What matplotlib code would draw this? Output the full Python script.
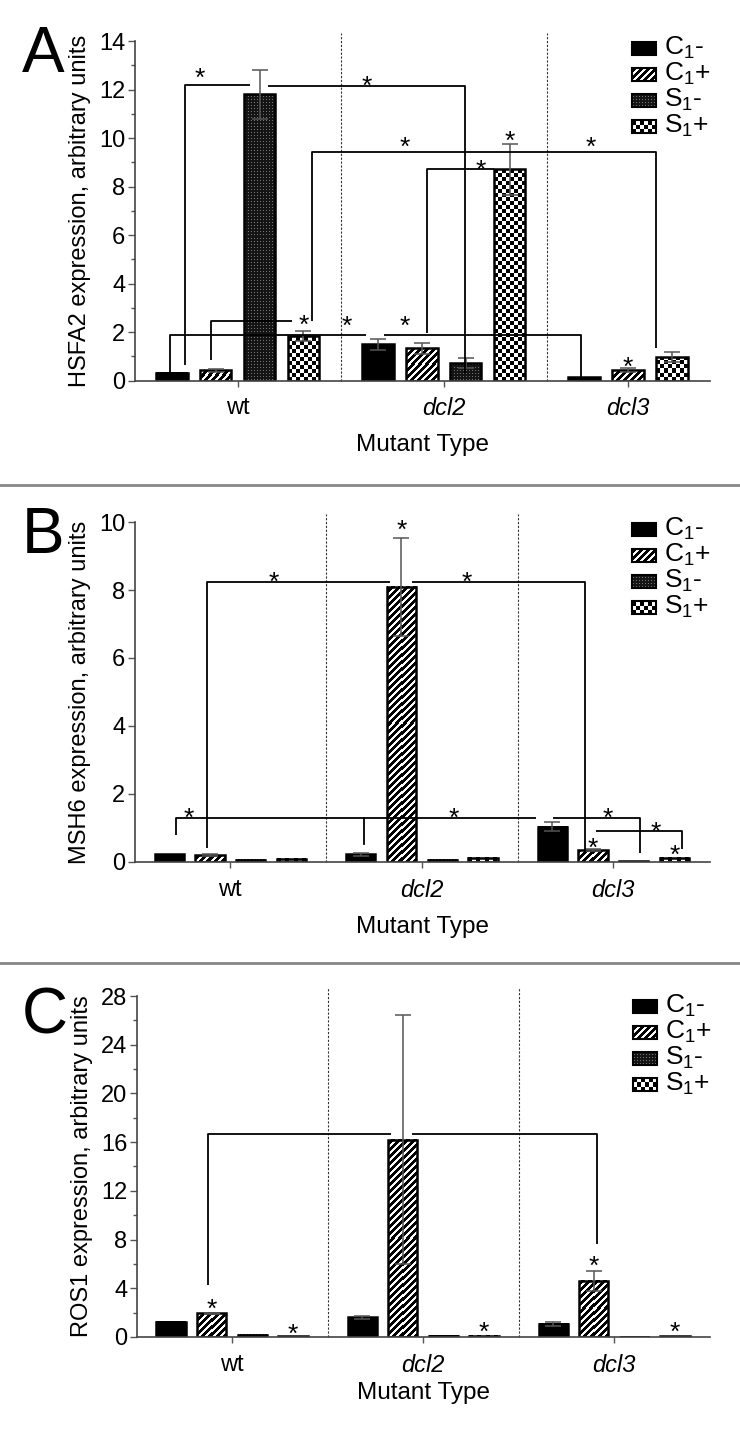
import numpy as np
import matplotlib.pyplot as plt
from matplotlib.patches import Rectangle
from matplotlib.lines import Line2D
from matplotlib.ticker import MultipleLocator

plt.rcParams['font.family'] = ['Liberation Sans', 'DejaVu Sans']
plt.rcParams['mathtext.fontset'] = 'custom'
plt.rcParams['mathtext.rm'] = 'Liberation Sans'
plt.rcParams['mathtext.it'] = 'Liberation Sans:italic'

# data (nan = bar not shown)
series = ['C$_1$-', 'C$_1$+', 'S$_1$-', 'S$_1$+']
groups = ['wt', 'dcl2', 'dcl3']

hsfa2_mean = [[0.33, 0.42, 11.8, 1.84], [1.5, 1.33, 0.74, 8.72], [0.16, 0.44, np.nan, 0.96]]
hsfa2_err = [[0.0, 0.07, 1.0, 0.2], [0.22, 0.23, 0.21, 1.05], [0.0, 0.07, np.nan, 0.21]]

msh6_mean = [[0.235, 0.2, 0.06, 0.1], [0.22, 8.1, 0.06, 0.12], [1.04, 0.35, 0.02, 0.12]]
msh6_err = [[0.0, 0.02, 0.0, 0.0], [0.04, 1.44, 0.0, 0.0], [0.13, 0.03, 0.0, 0.0]]

ros1_mean = [[1.26, 1.95, 0.2, 0.08], [1.62, 16.2, 0.1, 0.1], [1.07, 4.62, 0.03, 0.05]]
ros1_err = [[0.0, 0.05, 0.0, 0.0], [0.13, 10.2, 0.0, 0.0], [0.19, 0.82, 0.0, 0.0]]

# significance brackets: (left end, right end, level, left drop to, right drop to)
# ends given as (group, series index, offset from bar centre)
hsfa2_brackets = [
    (('wt', 0, 0.30), ('wt', 2, -0.21), 12.2, 0.65, None),
    (('wt', 2, 0.20), ('dcl2', 2, -0.02), 12.15, None, 0.32),
    (('wt', 3, 0.20), ('dcl3', 3, -0.35), 9.43, 2.45, 1.35),
    (('dcl2', 1, 0.12), ('dcl2', 3, -0.36), 8.72, 1.96, None),
    (('wt', 0, -0.05), ('dcl2', 0, -0.27), 1.88, 0.32, None),
    (('dcl2', 0, 0.14), ('dcl3', 0, -0.08), 1.88, None, 0.15),
    (('wt', 1, -0.11), ('wt', 3, -0.25), 2.45, 0.85, None),
]
hsfa2_stars = [(('wt', 0, 0.64), 12.8), (('dcl2', 0, -0.25), 12.45), (('dcl2', 1, -0.38), 9.95),
               (('dcl3', 0, 0.15), 9.95), (('dcl2', 3, -0.65), 9.0), (('dcl2', 0, -0.72), 2.55),
               (('dcl2', 1, -0.38), 2.55), (('wt', 3, 0.0), 2.6), (('dcl2', 3, 0.0), 10.2),
               (('dcl3', 1, 0.0), 0.85)]

msh6_brackets = [
    (('wt', 1, -0.07), ('dcl2', 1, -0.27), 8.24, 0.41, None),
    (('dcl2', 1, 0.27), ('dcl3', 1, -0.2), 8.24, None, 0.29),
    (('wt', 0, 0.17), ('dcl3', 0, -0.41), 1.3, 0.79, None),
    (('dcl3', 0, 0.03), ('dcl3', 2, 0.15), 1.3, None, 0.26),
    (('dcl3', 1, 0.07), ('dcl3', 3, 0.18), 0.91, None, 0.38),
]
msh6_drops = [(('dcl2', 0, 0.07), 1.3, 0.53)]
msh6_stars = [(('wt', 2, 0.56), 8.45), (('dcl2', 3, -0.4), 8.45), (('dcl2', 1, 0.0), 9.97),
              (('wt', 0, 0.49), 1.5), (('dcl2', 2, 0.28), 1.5), (('dcl3', 1, 0.36), 1.5),
              (('dcl3', 3, -0.46), 1.09), (('dcl3', 1, 0.0), 0.62), (('dcl3', 3, 0.0), 0.41)]

ros1_brackets = [
    (('wt', 1, -0.09), ('dcl2', 1, -0.3), 16.67, 4.27, None),
    (('dcl2', 1, 0.22), ('dcl3', 1, 0.07), 16.67, None, 7.64),
]
ros1_stars = [(('wt', 1, 0.0), 2.87), (('wt', 3, 0.0), 0.82), (('dcl2', 3, 0.0), 0.99),
              (('dcl3', 1, 0.0), 6.4), (('dcl3', 3, 0.0), 0.99)]

fills = ['solid', 'stripes', 'dots', 'checker']


def pattern(kind, w_px, h_px):
    w_px, h_px = max(int(round(w_px)), 1), max(int(round(h_px)), 1)
    yy, xx = np.mgrid[0:h_px, 0:w_px]
    if kind == 'solid':
        v = np.zeros((h_px, w_px))
    elif kind == 'stripes':
        v = (((xx - yy) % 7) < 3).astype(float)
    elif kind == 'dots':
        v = np.where((xx % 3 == 1) & (yy % 3 == 1), 0.45, 0.08)
    else:
        v = ((xx // 4 + yy // 4) % 2).astype(float)
    return v


def fill_box(ax, kind, x0, x1, y0, y1, transform, zorder=2):
    p0 = transform.transform((x0, y0))
    p1 = transform.transform((x1, y1))
    img = pattern(kind, abs(p1[0] - p0[0]), abs(p1[1] - p0[1]))
    ax.imshow(img, cmap='gray', vmin=0, vmax=1, extent=(x0, x1, y0, y1), origin='lower',
              interpolation='nearest', aspect='auto', transform=transform, zorder=zorder,
              clip_on=False)


def bar_positions(mean):
    pos = {}
    for g, name in enumerate(groups):
        k = 0
        for s in range(4):
            if not np.isnan(mean[g][s]):
                pos[(name, s)] = g * 4.7 + k
                k += 1
    return pos


def draw_panel(ax, mean, err, brackets, stars, ylabel, ymax, major, minor, xlabelpad,
               legend_top, drops=()):
    pos = bar_positions(mean)
    xs = list(pos.values())
    ax.set_xlim(min(xs) - 0.84, max(xs) + 0.87)
    ax.set_ylim(0, ymax)

    def bx(ref):
        name, s, dx = ref
        return pos[(name, s)] + dx

    half = 0.36
    for g, name in enumerate(groups):
        for s in range(4):
            if (name, s) not in pos:
                continue
            x = pos[(name, s)]
            h = mean[g][s]
            fill_box(ax, fills[s], x - half, x + half, 0, h, ax.transData)
            ax.add_patch(Rectangle((x - half, 0), 2 * half, h, facecolor='none',
                                   edgecolor='black', linewidth=1.8, zorder=2.5))
            if err[g][s] > 0:
                ax.errorbar(x, h, yerr=err[g][s], color='#555555', lw=1.1, capsize=5.5,
                            capthick=1.1, zorder=3)

    # dashed separators between genotypes
    for g in range(2):
        left = max(v for k, v in pos.items() if k[0] == groups[g])
        right = min(v for k, v in pos.items() if k[0] == groups[g + 1])
        ax.axvline((left + right) / 2, ymin=0, ymax=1.025, color='#333333', lw=0.8,
                   ls=(0, (2, 1.5)), clip_on=False, zorder=1)

    for x1, x2, level, d1, d2 in brackets:
        xa, xb = bx(x1), bx(x2)
        xsr = [xa, xb]
        ysr = [level, level]
        if d1 is not None:
            xsr = [xa] + xsr
            ysr = [d1] + ysr
        if d2 is not None:
            xsr = xsr + [xb]
            ysr = ysr + [d2]
        ax.plot(xsr, ysr, color='black', lw=1.3, zorder=4, solid_capstyle='butt')
    for ref, top, bottom in drops:
        ax.plot([bx(ref), bx(ref)], [top, bottom], color='black', lw=1.3, zorder=4)
    for ref, y in stars:
        ax.annotate('*', (bx(ref), y), xytext=(0, -11), textcoords='offset points',
                    ha='center', va='baseline', fontsize=19, zorder=5)

    centers = [np.mean([v for k, v in pos.items() if k[0] == name]) for name in groups]
    ax.set_xticks(centers)
    ax.set_xticklabels(groups, fontsize=17)
    for lab in ax.get_xticklabels()[1:]:
        lab.set_style('italic')
    ax.tick_params(axis='x', length=4, width=1, pad=8, color='#555555')
    ax.tick_params(axis='y', labelsize=17, length=5, width=1, pad=2, color='#555555')
    ax.tick_params(axis='y', which='minor', length=3, width=1, color='#555555')
    ax.yaxis.set_major_locator(MultipleLocator(major))
    if minor:
        ax.yaxis.set_minor_locator(MultipleLocator(minor))
    ax.set_xlabel('Mutant Type', fontsize=17.5, labelpad=xlabelpad)
    ax.set_ylabel(ylabel, fontsize=17, labelpad=6)
    for side in ['top', 'right']:
        ax.spines[side].set_visible(False)
    for side in ['left', 'bottom']:
        ax.spines[side].set_color('#444444')
        ax.spines[side].set_linewidth(1.2)

    # legend drawn by hand so the patterned swatches match the bars
    w_px, h_px = ax.bbox.width, ax.bbox.height
    sx0, sx1 = (632 - 135) / 575, (656 - 135) / 575
    for i in range(4):
        yc = 1 - (legend_top + 26 * i) / h_px
        y0, y1 = yc - 6.5 / h_px, yc + 6.5 / h_px
        fill_box(ax, fills[i], sx0, sx1, y0, y1, ax.transAxes, zorder=6)
        ax.add_patch(Rectangle((sx0, y0), sx1 - sx0, y1 - y0, transform=ax.transAxes,
                               facecolor='none', edgecolor='black', lw=1.5, clip_on=False,
                               zorder=6.5))
        ax.text(sx1 + 8 / w_px, yc, series[i], transform=ax.transAxes, fontsize=19,
                ha='left', va='center')


fig = plt.figure(figsize=(7.4, 14.29), dpi=100)
ax_a = fig.add_axes([0.1824, 0.7336, 0.777, 0.2377])
ax_b = fig.add_axes([0.1824, 0.3968, 0.777, 0.2379])
ax_c = fig.add_axes([0.1851, 0.0644, 0.775, 0.2386])

draw_panel(ax_a, hsfa2_mean, hsfa2_err, hsfa2_brackets, hsfa2_stars,
           'HSFA2 expression, arbitrary units', 14, 2, 1, 10, 7)
draw_panel(ax_b, msh6_mean, msh6_err, msh6_brackets, msh6_stars,
           'MSH6 expression, arbitrary units', 10, 2, None, 10, 7, drops=msh6_drops)
draw_panel(ax_c, ros1_mean, ros1_err, ros1_brackets, ros1_stars,
           'ROS1 expression, arbitrary units', 28, 4, 2, 4, 10)

for letter, y in [('A', 1 - 72 / 1429), ('B', 1 - 553 / 1429), ('C', 1 - 1033 / 1429)]:
    fig.text(22 / 740, y, letter, fontsize=46, ha='left', va='baseline')

for y in [1 - 485 / 1429, 1 - 963 / 1429]:
    fig.add_artist(Line2D([0, 1], [y, y], transform=fig.transFigure, color='#888888', lw=2))

fig.savefig('out.png', dpi=100)
